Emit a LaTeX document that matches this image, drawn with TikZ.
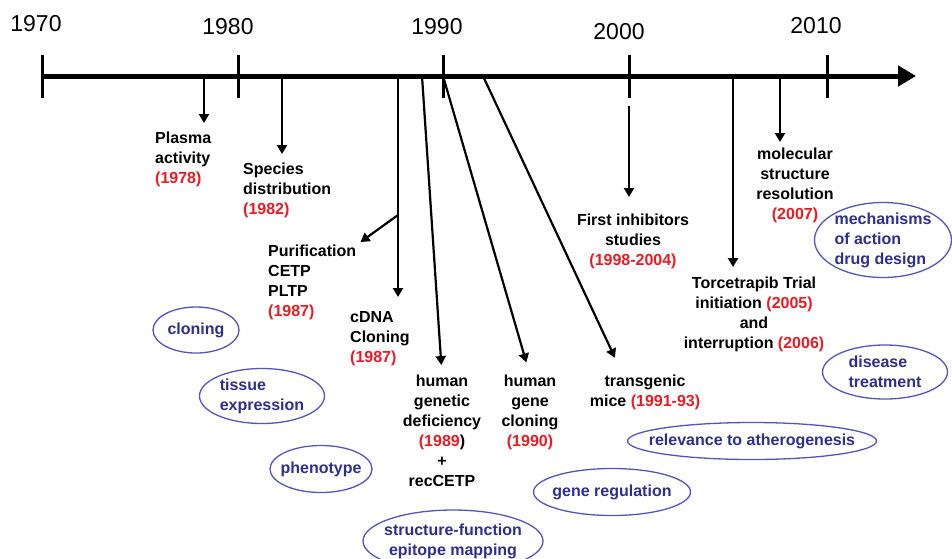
\documentclass[tikz,border=0pt]{standalone}
\usepackage{fontspec}
\setmainfont{Liberation Sans}
\usetikzlibrary{arrows.meta,shapes.geometric}
\definecolor{yrred}{RGB}{232,28,36}
\definecolor{ovblue}{RGB}{84,84,190}
\definecolor{ovtext}{RGB}{46,46,140}
\newcommand{\yr}[1]{\textcolor{yrred}{#1}}
\tikzset{
  lbl/.style={font=\fontsize{16}{20}\selectfont\bfseries,inner sep=0pt,align=center},
  year/.style={font=\fontsize{23}{27}\selectfont,inner sep=0pt},
  oval/.style={ellipse,draw=ovblue,line width=1.3pt,inner sep=0pt},
  ovtxt/.style={text=ovtext,font=\fontsize{16}{20}\selectfont\bfseries,inner sep=0pt,align=center},
  evt/.style={line width=2.2pt,-{Triangle[length=9pt,width=10pt]}}
}
\begin{document}
\begin{tikzpicture}[x=1pt,y=-1pt]
                    \useasboundingbox (0,0) rectangle (952,558);
                    % time axis
                    \coordinate(t0)at(42,76);\coordinate(tE)at(916,76);
                    \draw[line width=5pt,-{Triangle[length=18pt,width=20pt]}] (t0) -- (tE);
                    \foreach \x/\lx/\ly/\yy in {42/36/24/1970,238/228/27/1980,443/437/27/1990,629/619/32/2000,827/816/26/2010}{
                      \draw[line width=3pt] (\x,55) -- (\x,98);
                      \node[year] (y\yy) at (\lx,\ly) {\yy};
                    }
                    % events
                    \node[lbl,anchor=north west,align=left] (pl) at (155,132) {Plasma\\activity\\\yr{(1978)}};
                    \node[lbl,anchor=north west,align=left] (sp) at (243,163) {Species\\distribution\\\yr{(1982)}};
                    \node[lbl,anchor=north west,align=left] (pu) at (268,245) {Purification\\CETP\\PLTP\\\yr{(1987)}};
                    \node[lbl,anchor=north west,align=left] (cd) at (350,311) {cDNA\\Cloning\\\yr{(1987)}};
                    \node[lbl,anchor=north] (hg) at (442,375) {human\\genetic\\deficiency\\\yr{(1989})\\+\\recCETP};
                    \node[lbl,anchor=north] (hc) at (530,375) {human\\gene\\cloning\\\yr{(1990)}};
                    \node[lbl,anchor=north] (tm) at (645,375) {transgenic\\mice \yr{(1991-93)}};
                    \node[lbl,anchor=north] (fi) at (633,214) {First inhibitors\\studies\\\yr{(1998-2004)}};
                    \node[lbl,anchor=north] (tt) at (754,277) {Torcetrapib Trial\\initiation \yr{(2005)}\\and\\interruption \yr{(2006)}};
                    \node[lbl,anchor=north] (ms) at (795,148) {molecular\\structure\\resolution\\\yr{(2007)}};
                    % arrows from the axis
                    \coordinate(a1)at(204,76);\coordinate(a2)at(282,76);\coordinate(a3)at(398,76);
                    \coordinate(b1)at(398,215);\coordinate(a4)at(422,76);\coordinate(a5)at(443,76);
                    \coordinate(a6)at(483,76);\coordinate(a7)at(629,106);\coordinate(a8)at(733,76);
                    \coordinate(a9)at(780,76);
                    \draw[evt,shorten >=9pt] (a1) -- (a1 |- pl.north);
                    \draw[evt,shorten >=9pt] (a2) -- (a2 |- sp.north);
                    \draw[evt,shorten >=14pt] (a3) -- (a3 |- cd.north);
                    \draw[evt,shorten >=5pt] (b1) -- (pu.north east);
                    \draw[evt,shorten >=10pt] (a4) -- (hg.north);
                    \draw[evt,shorten >=13pt] (a5) -- (hc.north);
                    \draw[evt,shorten >=19pt] (a6) -- ([xshift=-22pt]tm.north);
                    \draw[evt,shorten >=17pt] (a7) -- (a7 |- fi.north);
                    \draw[evt,shorten >=10pt] (a8) -- (a8 |- tt.north);
                    \draw[evt,shorten >=6pt] (a9) -- (a9 |- ms.north);
                    % research topics
                    \node[oval,minimum width=137,minimum height=75,label={[ovtxt,align=left]center:mechanisms\\of action\\drug design}] (mech) at (883,240) {};
                    \node[oval,minimum width=86,minimum height=46,label={[ovtxt]center:cloning}] (clo) at (196,330) {};
                    \node[oval,minimum width=125,minimum height=55,label={[ovtxt,align=left]center:tissue\\expression}] (tis) at (262,396) {};
                    \node[oval,minimum width=102,minimum height=47,label={[ovtxt]center:phenotype}] (phe) at (321,469) {};
                    \node[oval,minimum width=180,minimum height=62,label={[ovtxt]center:structure-function\\epitope mapping}] (stf) at (453,541) {};
                    \node[oval,minimum width=157,minimum height=47,label={[ovtxt]center:gene regulation}] (gen) at (612,492) {};
                    \node[oval,minimum width=249,minimum height=37,label={[ovtxt]center:relevance to atherogenesis}] (rel) at (752,441) {};
                    \node[oval,minimum width=125,minimum height=54,label={[ovtxt,align=left]center:disease\\treatment}] (dis) at (885,372) {};
                  \end{tikzpicture}
\end{document}
